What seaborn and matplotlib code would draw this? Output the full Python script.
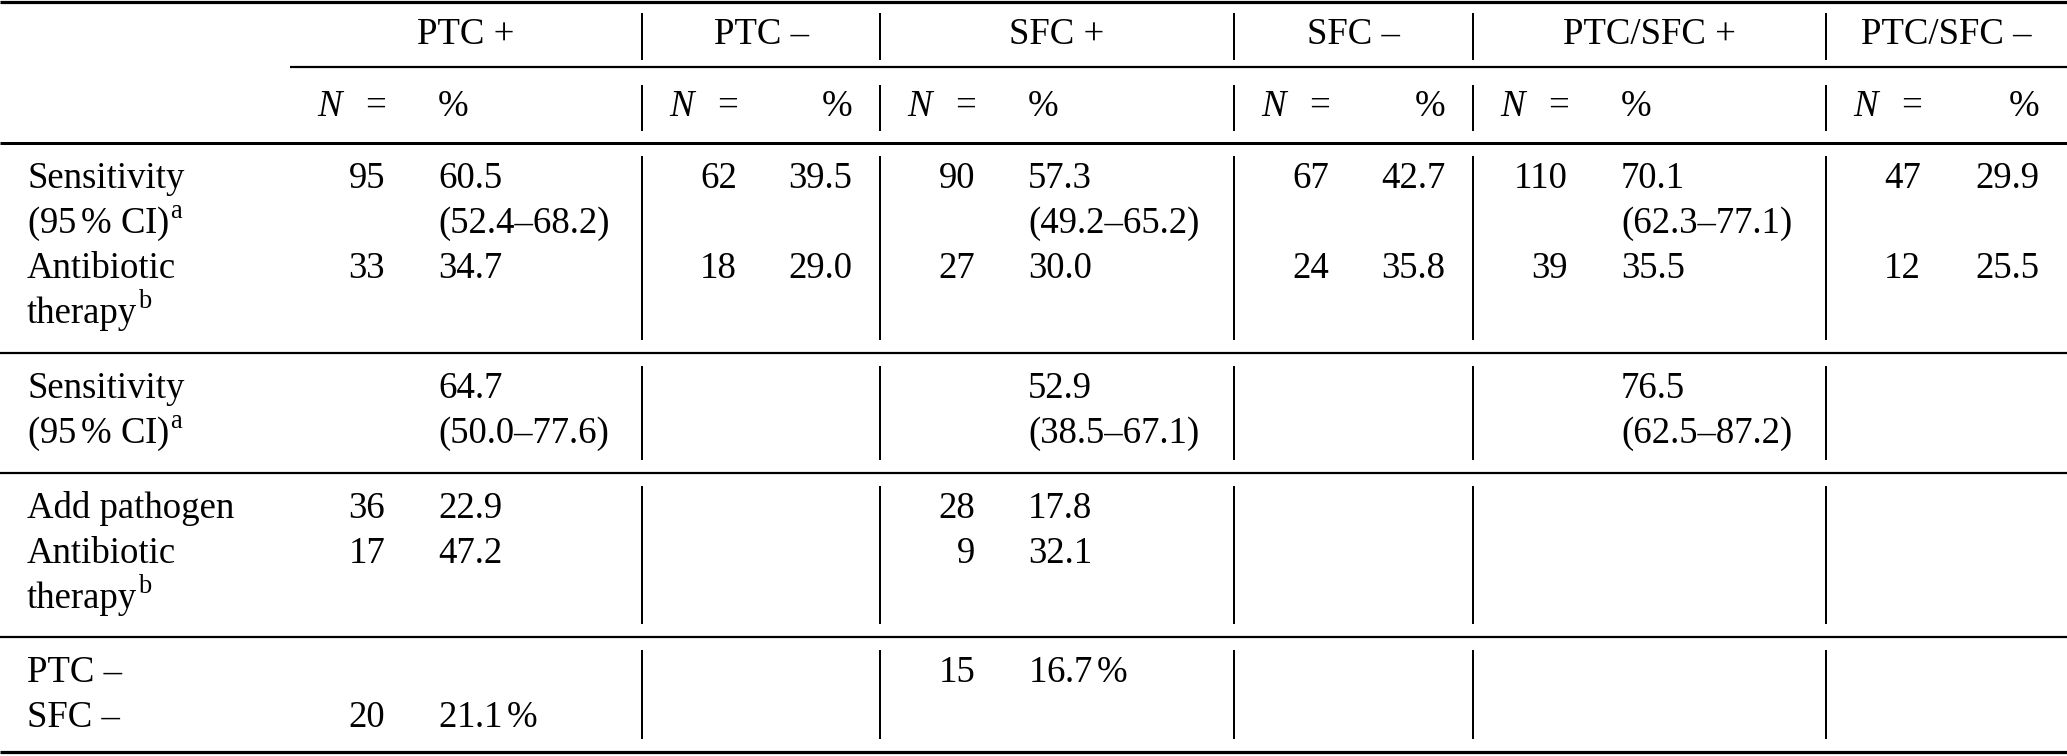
import matplotlib
matplotlib.use("Agg")
import matplotlib.pyplot as plt
import seaborn as sns

# column groups of the table
groups = ["PTC +", "PTC –", "SFC +", "SFC –", "PTC/SFC +", "PTC/SFC –"]
plus_group = [True, False, True, False, True, False]

# block 1: all patients
sens_n = [95, 62, 90, 67, 110, 47]
sens_pct = [60.5, 39.5, 57.3, 42.7, 70.1, 29.9]
sens_ci = ["(52.4–68.2)", None, "(49.2–65.2)", None, "(62.3–77.1)", None]
abx_n = [33, 18, 27, 24, 39, 12]
abx_pct = [34.7, 29.0, 30.0, 35.8, 35.5, 25.5]

# block 2
sens2_pct = [64.7, None, 52.9, None, 76.5, None]
sens2_ci = ["(50.0–77.6)", None, "(38.5–67.1)", None, "(62.5–87.2)", None]

# block 3
add_n = [36, None, 28, None, None, None]
add_pct = [22.9, None, 17.8, None, None, None]
add_abx_n = [17, None, 9, None, None, None]
add_abx_pct = [47.2, None, 32.1, None, None, None]

# block 4
neg_ptc_n = [None, None, 15, None, None, None]
neg_ptc_pct = [None, None, 16.7, None, None, None]
neg_sfc_n = [20, None, None, None, None, None]
neg_sfc_pct = [21.1, None, None, None, None, None]

# row labels with their footnote marks
row_labels = [
    [("Sensitivity", ""), (r"(95$\,$% CI)", "a"), ("Antibiotic", ""), ("therapy", "b")],
    [("Sensitivity", ""), (r"(95$\,$% CI)", "a")],
    [("Add pathogen", ""), ("Antibiotic", ""), ("therapy", "b")],
    [("PTC –", ""), ("SFC –", "")],
]

sns.set_theme(style="white")
plt.rcParams["font.family"] = ["Liberation Serif", "DejaVu Serif"]
plt.rcParams["mathtext.fontset"] = "custom"
plt.rcParams["mathtext.rm"] = "Liberation Serif"
plt.rcParams["mathtext.it"] = "Liberation Serif:italic"

W, H = 2067, 756
FS = 26.5
fig = plt.figure(figsize=(W / 100, H / 100), dpi=100)
ax = fig.add_axes([0, 0, 1, 1])
ax.set_xlim(0, W)
ax.set_ylim(H, 0)
ax.axis("off")
renderer = fig.canvas.get_renderer()

edges = [290, 642, 880, 1234, 1473, 1826, 2067]
rules = [2, 143, 353, 473, 637, 752]
sec_top = rules[1:5]
sec_bot = rules[2:6]


def px(v):
    return v * 72 / 100


def txt(x, y, s, ha="left", fs=FS, **kw):
    return ax.text(x, y, s, ha=ha, va="baseline", fontsize=fs, color="black", **kw)


def fmt(v, unit=False):
    if v is None:
        return None
    s = f"{v:.1f}"
    return s + r"$\,$%" if unit else s


# horizontal rules
ax.hlines([2, 752], 0, W, color="black", lw=px(3.2))
ax.hlines(143, 0, W, color="black", lw=px(3.0))
ax.hlines([353, 473, 637], 0, W, color="black", lw=px(2.2))
ax.hlines(67, edges[0], W, color="black", lw=px(2.2))

# vertical separators
spans = [(13, 60), (85, 131)] + [(t + 13, b - 13) for t, b in zip(sec_top, sec_bot)]
for x in edges[1:-1]:
    for y0, y1 in spans:
        ax.vlines(x, y0, y1, color="black", lw=px(2.0))

# column positions inside each group
n_left, n_right, p_left, p_right = [], [], [], []
for i in range(len(groups)):
    L, R = edges[i], edges[i + 1]
    n_left.append(L + 27)
    n_right.append(L + 95)
    p_left.append(L + 148)
    p_right.append(R - 28)

# header rows
for i, g in enumerate(groups):
    txt((edges[i] + edges[i + 1]) / 2, 44, g, ha="center")
    txt(n_left[i], 116, "N", style="italic")
    txt(n_left[i] + 69, 116, "=", ha="right")
    if plus_group[i]:
        txt(p_left[i], 116, "%")
    else:
        txt(p_right[i], 116, "%", ha="right")


def put(gi, y, n=None, p=None):
    if n is not None:
        txt(n_right[gi], y, str(n), ha="right")
    if p is not None:
        if plus_group[gi]:
            txt(p_left[gi], y, p)
        else:
            txt(p_right[gi], y, p, ha="right")


def base(s, r):
    return sec_top[s] + 45 + 45 * r


# row labels (+ superscript footnote marks)
for s, labels in enumerate(row_labels):
    for r, (lab, mark) in enumerate(labels):
        t = txt(27, base(s, r), lab)
        if mark:
            bb = t.get_window_extent(renderer)
            x_end = ax.transData.inverted().transform((bb.x1, bb.y0))[0]
            txt(x_end + 1, base(s, r) - 15, mark, fs=FS * 0.72)

for g in range(len(groups)):
    put(g, base(0, 0), sens_n[g], fmt(sens_pct[g]))
    put(g, base(0, 1), None, sens_ci[g])
    put(g, base(0, 2), abx_n[g], fmt(abx_pct[g]))
    put(g, base(1, 0), None, fmt(sens2_pct[g]))
    put(g, base(1, 1), None, sens2_ci[g])
    put(g, base(2, 0), add_n[g], fmt(add_pct[g]))
    put(g, base(2, 1), add_abx_n[g], fmt(add_abx_pct[g]))
    put(g, base(3, 0), neg_ptc_n[g], fmt(neg_ptc_pct[g], unit=True))
    put(g, base(3, 1), neg_sfc_n[g], fmt(neg_sfc_pct[g], unit=True))

fig.savefig("out.png", dpi=100)
